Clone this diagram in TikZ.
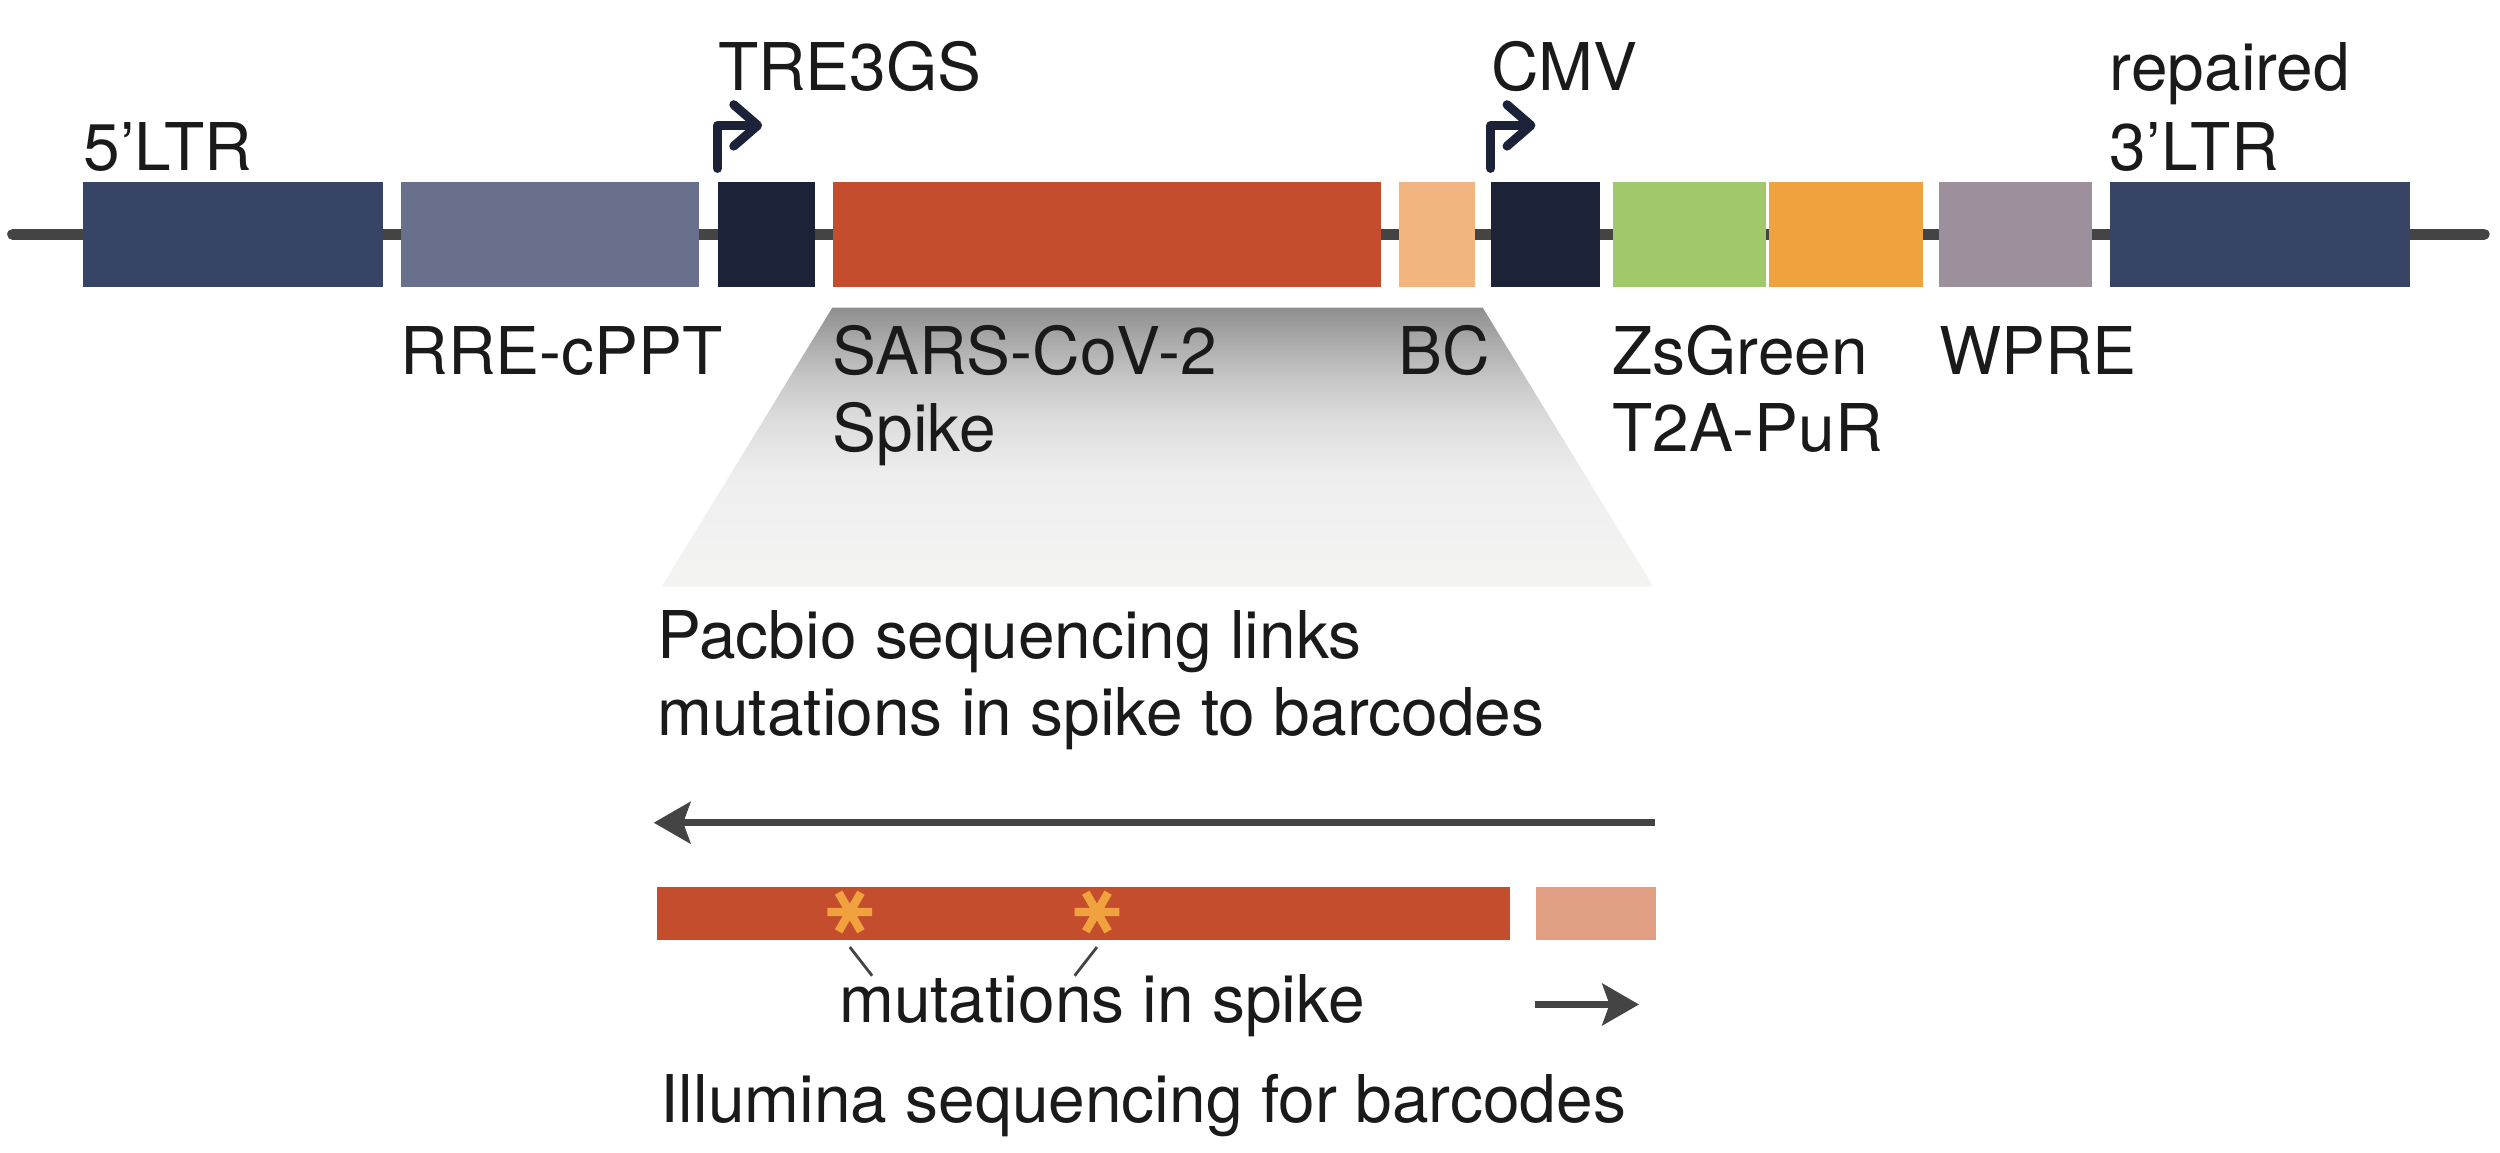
\documentclass[tikz,border=0pt]{standalone}
\usepackage{fontspec}
\setmainfont{TeX Gyre Heros}
\usetikzlibrary{arrows.meta, positioning}
\definecolor{ltrblue}{HTML}{374466}
\definecolor{rreblue}{HTML}{68708C}
\definecolor{promdark}{HTML}{1C2338}
\definecolor{spikered}{HTML}{C34D2D}
\definecolor{bcpeach}{HTML}{F2B580}
\definecolor{zsgreen}{HTML}{A2C86C}
\definecolor{puorange}{HTML}{EFA23D}
\definecolor{wpremauve}{HTML}{9C909D}
\definecolor{bclight}{HTML}{E09F82}
\definecolor{linegray}{HTML}{444444}
\definecolor{txtgray}{HTML}{1A1A1A}
\definecolor{fadeA}{HTML}{F4F4F3}
\definecolor{fadeB}{HTML}{EEEEEE}
\definecolor{fadeC}{HTML}{DCDCDC}
\definecolor{fadeD}{HTML}{C6C6C6}
\definecolor{fadeE}{HTML}{A6A6A6}
\definecolor{fadeF}{HTML}{8F8F8F}
\pgfdeclareverticalshading{zoomfade}{100bp}{color(0bp)=(fadeA); color(25bp)=(fadeA);
  color(45bp)=(fadeB); color(55bp)=(fadeC); color(62.5bp)=(fadeD); color(70bp)=(fadeE);
  color(75bp)=(fadeF); color(100bp)=(fadeF)}
\tikzset{
  gene/.style={inner sep=0pt, minimum height=1.32cm, anchor=west},
  lbl/.style={inner sep=0pt, anchor=base west, text=txtgray, font=\fontsize{23.5pt}{27.5pt}\selectfont},
  backbone/.style={line width=4pt, line cap=round, draw=linegray},
  promarrow/.style={line width=3.2pt, line cap=round, line join=round, draw=promdark,
    -{Straight Barb[length=0.3cm, width=0.52cm, round]}},
  seqarr/.style={line width=2.6pt, draw=linegray, -{Stealth[length=0.46cm, width=0.52cm, inset=0.09cm]}},
  mutstar/.style={line width=3pt, draw=puorange},
  lead/.style={line width=1pt, draw=linegray},
}
\begin{document}
\begin{tikzpicture}[x=0.02cm, y=-0.02cm]
  \useasboundingbox (0,0) rectangle (1568,723);
  % zoom onto spike + barcode
  \shade[shading=zoomfade] (522,193) -- (930,193) -- (1037,368) -- (415,368) -- cycle;
  % vector backbone
  \coordinate (bbL) at (8,147);
  \coordinate (bbR) at (1558,147);
  \draw[backbone] (bbL) -- (bbR);
  % elements
  \node[gene, fill=ltrblue, minimum width=3.76cm] (ltr5) at (52,147) {};
  \node[gene, fill=rreblue, minimum width=3.74cm] (rre) at (251,147) {};
  \node[gene, fill=promdark, minimum width=1.22cm] (tre) at (450,147) {};
  \node[gene, fill=spikered, minimum width=6.88cm] (spike) at (522,147) {};
  \node[gene, fill=bcpeach, minimum width=0.96cm] (bc) at (877,147) {};
  \node[gene, fill=promdark, minimum width=1.36cm] (cmv) at (935,147) {};
  \node[gene, fill=zsgreen, minimum width=1.92cm] (zsg) at (1011,147) {};
  \node[gene, fill=puorange, minimum width=1.94cm] (t2a) at (1109,147) {};
  \node[gene, fill=wpremauve, minimum width=1.92cm] (wpre) at (1216,147) {};
  \node[gene, fill=ltrblue, minimum width=3.76cm] (ltr3) at (1323,147) {};
  % promoters
  \draw[promarrow] ([yshift=0.16cm]tre.north west) |- ++(28,-27);
  \draw[promarrow] ([yshift=0.16cm]cmv.north west) |- ++(28,-27);
  % labels above
  \node[lbl] (l-ltr5) at (52,107) {5'LTR};
  \node[lbl] (l-tre) at (450,57) {TRE3GS};
  \node[lbl] (l-cmv) at (935,57) {CMV};
  \node[lbl] (l-ltr3a) at (1323,57) {repaired};
  \node[lbl] (l-ltr3b) at (1323,107) {3'LTR};
  % labels below
  \node[lbl] (l-rre) at (251,235) {RRE-cPPT};
  \node[lbl] (l-spikea) at (522,235) {SARS-CoV-2};
  \node[lbl] (l-spikeb) at (522,283) {Spike};
  \node[lbl] (l-bc) at (877,235) {BC};
  \node[lbl] (l-zsga) at (1011,235) {ZsGreen};
  \node[lbl] (l-zsgb) at (1011,283) {T2A-PuR};
  \node[lbl] (l-wpre) at (1216,235) {WPRE};
  % pacbio read
  \node[lbl] (pac1) at (412,413) {Pacbio sequencing links};
  \node[lbl] (pac2) at (412,461) {mutations in spike to barcodes};
  \coordinate (pbR) at (1038,516);
  \coordinate (pbL) at (410,516);
  \draw[seqarr] (pbR) -- (pbL);
  \node[gene, fill=spikered, minimum width=10.7cm, minimum height=0.66cm] (readS) at (412,573) {};
  \node[gene, fill=bclight, minimum width=1.5cm, minimum height=0.66cm] (readB) at (963,573) {};
  % mutations
  \coordinate (mut1) at (533,572);
  \coordinate (mut2) at (688,572);
  \foreach \m in {mut1,mut2}
    \draw[mutstar] (\m) +(0:14) -- +(180:14) (\m) +(60:14) -- +(240:14) (\m) +(120:14) -- +(300:14);
  \node[lbl] (mutl) at (526,641) {mutations in spike};
  \coordinate (ld1a) at (533,594);
  \coordinate (ld1b) at (547,612);
  \coordinate (ld2a) at (688,594);
  \coordinate (ld2b) at (674,612);
  \draw[lead] (ld1a) -- (ld1b);
  \draw[lead] (ld2a) -- (ld2b);
  % illumina read
  \coordinate (ilL) at (963,630);
  \coordinate (ilR) at (1028,630);
  \draw[seqarr] (ilL) -- (ilR);
  \node[lbl] (illu) at (414,704) {Illumina sequencing for barcodes};
\end{tikzpicture}
\end{document}
